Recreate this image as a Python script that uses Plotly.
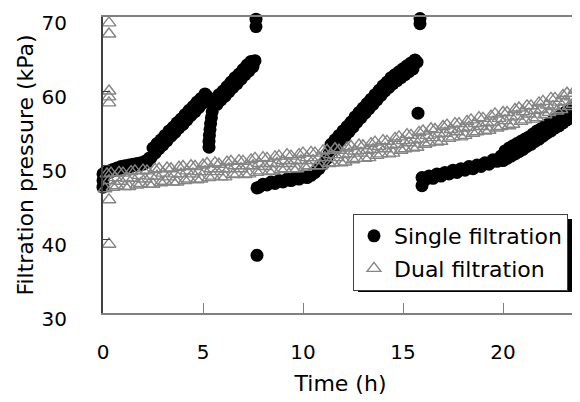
import plotly.graph_objects as go

# ---------------- data ----------------
single_time = [
    0.0, 0.0, 0.0, 0.05, 0.1,
    0.2, 0.3, 0.4, 0.5, 0.6, 0.7, 0.8, 0.9, 1.0, 1.1, 1.2, 1.3, 1.4, 1.5, 1.6,
    1.7, 1.8, 1.9, 2.0, 2.1, 2.2, 2.3,
    2.4, 2.5, 2.6, 2.7, 2.8, 2.9, 3.0, 3.1, 3.2, 3.3, 3.4, 3.5, 3.6, 3.7, 3.8,
    3.9, 4.0, 4.1, 4.2, 4.3, 4.4, 4.5, 4.6, 4.7, 4.8, 4.9, 5.0, 5.1, 5.2,
    5.3, 5.3, 5.32, 5.35, 5.38, 5.42, 5.46, 5.5, 5.25,
    5.6, 5.7, 5.8, 5.9, 6.0, 6.1, 6.2, 6.3, 6.4, 6.5, 6.6, 6.7, 6.8, 6.9, 7.0,
    7.1, 7.2, 7.3, 7.4, 7.5, 7.6,
    7.65, 7.65, 7.7, 7.7,
    7.8, 8.0, 8.2, 8.4, 8.6, 8.8, 9.0, 9.2, 9.4, 9.6, 9.8, 10.0, 10.2, 10.4,
    10.6, 10.8, 11.0, 11.2,
    11.3, 11.4, 11.5, 11.6, 11.7, 11.8, 11.9, 12.0, 12.1, 12.2, 12.3, 12.4,
    12.5, 12.6, 12.7, 12.8, 12.9, 13.0, 13.1, 13.2, 13.3, 13.4, 13.5, 13.6,
    13.7, 13.8, 13.9, 14.0, 14.1, 14.2, 14.3, 14.4, 14.5, 14.6, 14.7, 14.8,
    14.9, 15.0, 15.1, 15.2, 15.3, 15.4, 15.5, 15.6, 15.7,
    15.85, 15.85, 15.75,
    15.95, 15.95, 16.1, 16.3, 16.5, 16.7, 16.9, 17.1, 17.3, 17.5, 17.7, 17.9,
    18.1, 18.3, 18.5, 18.7, 18.9, 19.1, 19.3, 19.5, 19.7, 19.9,
    20.0, 20.1, 20.2, 20.3, 20.4, 20.5, 20.6, 20.7, 20.8, 20.9, 21.0, 21.1,
    21.2, 21.3, 21.4, 21.5, 21.6, 21.7, 21.8, 21.9, 22.0, 22.1, 22.2, 22.3,
    22.4, 22.5, 22.6, 22.7, 22.8, 22.9, 23.0, 23.1, 23.2, 23.3, 23.4, 23.5,
    23.6, 23.7, 23.8, 23.9,
]
single_pressure = [
    47.0, 47.9, 48.8, 48.4, 49.0,
    48.9, 49.2, 49.1, 49.4, 49.3, 49.6, 49.5, 49.8, 49.6, 49.9, 49.7, 50.0, 49.8, 50.1, 49.9,
    50.2, 50.0, 50.3, 50.1, 50.5, 50.4, 50.9,
    51.0, 52.3, 51.6, 52.9, 52.2, 53.4, 52.7, 54.0, 53.3, 54.6, 53.9, 55.1, 54.4, 55.7, 55.0,
    56.2, 55.5, 56.8, 56.1, 57.4, 56.7, 57.9, 57.2, 58.5, 57.8, 59.0, 58.4, 59.6, 59.3,
    52.4, 53.2, 54.0, 54.8, 55.6, 56.4, 57.2, 58.0, 58.6,
    58.9, 58.2, 59.5, 58.8, 60.0, 59.3, 60.6, 59.9, 61.2, 60.5, 61.8, 61.0, 62.3, 61.6, 62.9,
    62.2, 63.5, 62.7, 64.0, 63.3, 64.1,
    69.7, 68.7, 46.9, 37.8,
    47.0, 47.4, 47.3, 47.7, 47.5, 47.9, 47.7, 48.1, 47.9, 48.3, 48.1, 48.5, 48.3, 48.6,
    49.0, 49.5, 50.1, 50.9,
    51.5, 52.8, 52.1, 53.4, 52.7, 54.0, 53.3, 54.6, 53.9, 55.2, 54.5, 55.8,
    55.1, 56.5, 55.8, 57.1, 56.4, 57.7, 57.0, 58.3, 57.6, 58.9, 58.2, 59.5,
    58.8, 60.1, 59.4, 60.7, 60.0, 61.2, 60.5, 61.8, 61.0, 62.2, 61.4, 62.6,
    61.8, 63.0, 62.2, 63.4, 62.6, 63.8, 63.0, 64.2, 63.9,
    69.8, 69.1, 57.0,
    47.2, 48.3, 48.0, 48.5, 48.2, 48.8, 48.5, 49.0, 48.8, 49.3, 49.0, 49.5,
    49.3, 49.8, 49.5, 50.0, 49.8, 50.3, 50.1, 50.7, 50.5, 51.2,
    50.6, 51.9, 50.9, 52.3, 51.2, 52.6, 51.5, 52.9, 51.8, 53.2, 52.1, 53.5,
    52.5, 53.8, 52.8, 54.2, 53.2, 54.6, 53.5, 54.9, 53.9, 55.3, 54.3, 55.6,
    54.6, 56.0, 55.0, 56.4, 55.3, 56.7, 55.7, 57.1, 56.1, 57.4, 56.4, 57.8,
    56.8, 58.2, 57.1, 58.5,
]

dual_time = [
    0.3, 0.3, 0.3, 0.3, 0.3, 0.3, 0.3,
    0.1, 0.2, 0.3, 0.4, 0.5, 0.6, 0.7, 0.8, 0.9, 1.0,
    1.1, 1.2, 1.3, 1.4, 1.5, 1.6, 1.7, 1.8, 1.9, 2.0,
    2.1, 2.2, 2.3, 2.4, 2.5, 2.6, 2.7, 2.8, 2.9, 3.0,
    3.1, 3.2, 3.3, 3.4, 3.5, 3.6, 3.7, 3.8, 3.9, 4.0,
    4.1, 4.2, 4.3, 4.4, 4.5, 4.6, 4.7, 4.8, 4.9, 5.0,
    5.1, 5.2, 5.3, 5.4, 5.5, 5.6, 5.7, 5.8, 5.9, 6.0,
    6.1, 6.2, 6.3, 6.4, 6.5, 6.6, 6.7, 6.8, 6.9, 7.0,
    7.1, 7.2, 7.3, 7.4, 7.5, 7.6, 7.7, 7.8, 7.9, 8.0,
    8.1, 8.2, 8.3, 8.4, 8.5, 8.6, 8.7, 8.8, 8.9, 9.0,
    9.1, 9.2, 9.3, 9.4, 9.5, 9.6, 9.7, 9.8, 9.9, 10.0,
    10.1, 10.2, 10.3, 10.4, 10.5, 10.6, 10.7, 10.8, 10.9, 11.0,
    11.1, 11.2, 11.3, 11.4, 11.5, 11.6, 11.7, 11.8, 11.9, 12.0,
    12.1, 12.2, 12.3, 12.4, 12.5, 12.6, 12.7, 12.8, 12.9, 13.0,
    13.1, 13.2, 13.3, 13.4, 13.5, 13.6, 13.7, 13.8, 13.9, 14.0,
    14.1, 14.2, 14.3, 14.4, 14.5, 14.6, 14.7, 14.8, 14.9, 15.0,
    15.1, 15.2, 15.3, 15.4, 15.5, 15.6, 15.7, 15.8, 15.9, 16.0,
    16.1, 16.2, 16.3, 16.4, 16.5, 16.6, 16.7, 16.8, 16.9, 17.0,
    17.1, 17.2, 17.3, 17.4, 17.5, 17.6, 17.7, 17.8, 17.9, 18.0,
    18.1, 18.2, 18.3, 18.4, 18.5, 18.6, 18.7, 18.8, 18.9, 19.0,
    19.1, 19.2, 19.3, 19.4, 19.5, 19.6, 19.7, 19.8, 19.9, 20.0,
    20.1, 20.2, 20.3, 20.4, 20.5, 20.6, 20.7, 20.8, 20.9, 21.0,
    21.1, 21.2, 21.3, 21.4, 21.5, 21.6, 21.7, 21.8, 21.9, 22.0,
    22.1, 22.2, 22.3, 22.4, 22.5, 22.6, 22.7, 22.8, 22.9, 23.0,
    23.1, 23.2, 23.3, 23.4, 23.5, 23.6, 23.7, 23.8,
]
dual_pressure = [
    69.2, 67.7, 60.0, 59.2, 58.4, 45.3, 39.3,
    46.8, 48.8, 47.9, 48.9, 47.0, 48.3, 47.2, 49.0, 47.8, 48.9,
    47.1, 48.2, 47.1, 49.1, 48.2, 49.2, 47.3, 48.6, 47.5, 49.3,
    48.1, 49.2, 47.4, 48.5, 47.4, 49.4, 48.5, 49.5, 47.6, 48.9,
    47.8, 49.6, 48.4, 49.5, 47.7, 48.8, 47.7, 49.7, 48.8, 49.8,
    47.9, 49.2, 48.1, 49.9, 48.8, 49.8, 48.0, 49.1, 48.1, 50.0,
    49.1, 50.2, 48.3, 49.5, 48.5, 50.3, 49.1, 50.1, 48.4, 49.5,
    48.4, 50.4, 49.5, 50.5, 48.7, 49.9, 48.8, 50.6, 49.5, 50.5,
    48.7, 49.9, 48.8, 50.7, 49.9, 50.9, 49.0, 50.2, 49.2, 51.0,
    49.8, 50.9, 49.1, 50.2, 49.2, 51.1, 50.2, 51.2, 49.4, 50.6,
    49.5, 51.4, 50.2, 51.2, 49.5, 50.6, 49.5, 51.4, 50.6, 51.6,
    49.7, 51.0, 49.9, 51.7, 50.6, 51.6, 49.9, 51.0, 49.9, 51.9,
    51.0, 52.0, 50.2, 51.4, 50.3, 52.2, 51.0, 52.0, 50.3, 51.4,
    50.4, 52.3, 51.5, 52.5, 50.7, 51.9, 50.9, 52.7, 51.6, 52.6,
    50.9, 52.0, 51.0, 52.9, 52.1, 53.1, 51.3, 52.5, 51.5, 53.3,
    52.2, 53.2, 51.5, 52.7, 51.6, 53.6, 52.8, 53.8, 52.0, 53.3,
    52.2, 54.1, 53.0, 54.0, 52.3, 53.4, 52.4, 54.4, 53.5, 54.6,
    52.8, 54.0, 53.0, 54.9, 53.7, 54.8, 53.1, 54.2, 53.2, 55.2,
    54.3, 55.4, 53.6, 54.8, 53.8, 55.6, 54.5, 55.6, 53.8, 55.0,
    54.0, 55.9, 55.1, 56.1, 54.3, 55.6, 54.5, 56.4, 55.2, 56.3,
    54.6, 55.7, 54.7, 56.6, 55.8, 56.9, 55.0, 56.3, 55.2, 57.1,
    56.0, 57.1, 55.3, 56.5, 55.5, 57.5, 56.6, 57.7, 55.9, 57.2,
    56.1, 58.0, 56.9, 58.0, 56.2, 57.4, 56.4, 58.4, 57.5, 58.6,
    56.8, 58.1, 57.1, 59.0, 57.9, 59.0, 57.3, 58.5, 57.5, 59.4,
    58.6, 59.7, 57.9, 59.2, 58.2, 60.1, 59.0, 60.1,
]

x_ticks = [0, 5, 10, 15, 20]
y_ticks = [30, 40, 50, 60, 70]
series_names = ["Single filtration", "Dual filtration"]

FONT = "DejaVu Sans"

# The page body has an 8px margin, so the figure is drawn 8px smaller and
# every target pixel position below is given relative to the page.
OFF = 8
FIG_W, FIG_H = 580 - OFF, 402 - OFF
PLOT_L, PLOT_R, PLOT_T, PLOT_B = 103, 578, 17, 313

fig = go.Figure()
fig.add_trace(go.Scatter(
    x=single_time, y=single_pressure, mode="markers", name=series_names[0],
    marker=dict(symbol="circle", size=13, color="black", line=dict(width=0)),
    cliponaxis=False, legendgroup="a",
))
fig.add_trace(go.Scatter(
    x=dual_time, y=dual_pressure, mode="markers", name=series_names[1],
    marker=dict(symbol="triangle-up-open", size=12, color="#858585",
                line=dict(width=1.4, color="#858585")),
    cliponaxis=False, legendgroup="b",
))

W, H = float(PLOT_R - PLOT_L), float(PLOT_B - PLOT_T)
def px_x(p):
    return (p - PLOT_L) / W
def px_y(p):
    return (PLOT_B - p) / H

# legend drop shadow (layout decoration)
fig.add_shape(type="rect", xref="paper", yref="paper",
              x0=px_x(358), x1=px_x(576), y0=px_y(292), y1=px_y(219),
              fillcolor="black", line=dict(width=0), layer="above")

fig.update_layout(
    width=FIG_W, height=FIG_H,
    margin=dict(l=PLOT_L - OFF, r=FIG_W + OFF - PLOT_R, t=PLOT_T - OFF,
                b=FIG_H + OFF - PLOT_B, pad=0),
    paper_bgcolor="white", plot_bgcolor="white",
    font=dict(family=FONT, size=20, color="black"),
    showlegend=True,
    legend=dict(
        x=px_x(353), y=px_y(214), xanchor="left", yanchor="top",
        bgcolor="white", bordercolor="#404040", borderwidth=1,
        font=dict(family=FONT, size=22, color="black"),
        tracegroupgap=1,
    ),
    xaxis=dict(
        range=[0, 23.75], tickvals=x_ticks, ticktext=[str(v) for v in x_ticks],
        ticks="inside", ticklen=10, tickcolor="#808080", tickwidth=1,
        showline=True, linecolor="#808080", linewidth=2, mirror=True,
        showgrid=False, zeroline=False, automargin=False,
        tickfont=dict(family=FONT, size=20),
        ticklabelstandoff=20, ticklabeloverflow="allow",
        title=dict(text="Time (h)", font=dict(family=FONT, size=22), standoff=13),
    ),
    yaxis=dict(
        range=[30, 70], tickvals=y_ticks, ticktext=[str(v) for v in y_ticks],
        ticks="inside", ticklen=7, tickcolor="#404040", tickwidth=1,
        showline=True, linecolor="#404040", linewidth=2, mirror=False,
        showgrid=False, zeroline=False, automargin=False,
        tickfont=dict(family=FONT, size=20),
        ticklabelstandoff=30, ticklabelshift=6, ticklabeloverflow="allow",
        title=dict(text="Filtration pressure (kPa)", font=dict(family=FONT, size=22), standoff=2),
    ),
)

fig.write_html("out.html")
